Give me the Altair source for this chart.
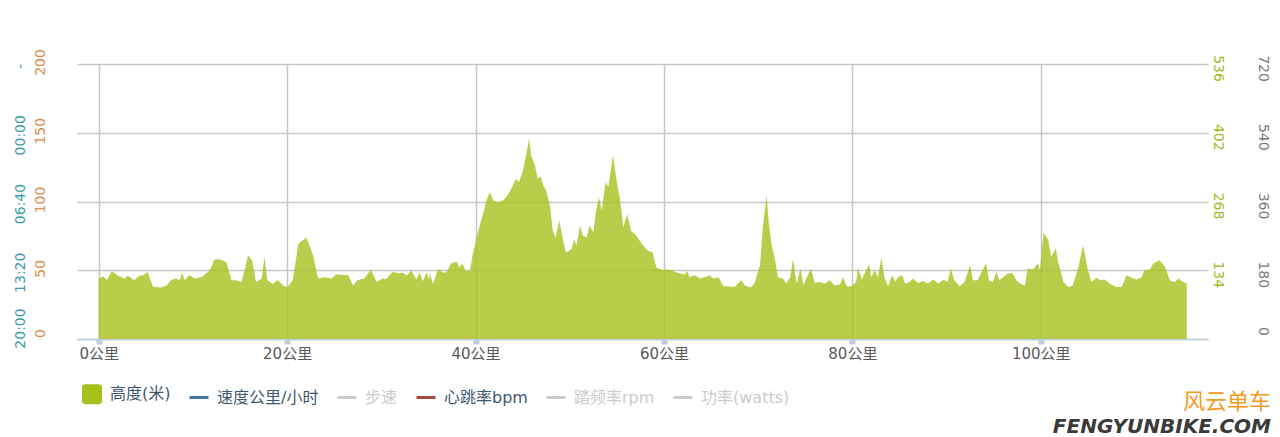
import altair as alt
import pandas as pd

# ---- elevation profile (km, metres) ----
km = [0.0, 0.46, 0.9, 1.4, 2.05, 2.76, 3.1, 3.8, 4.2, 4.7, 5.2, 5.77, 6.65, 7.2, 7.7, 8.25, 8.6, 8.85, 9.1, 9.66,
      10.2, 10.9, 11.4, 11.8, 12.3, 12.85, 13.55, 14.1, 14.6, 15.15, 15.5, 15.85, 16.3, 16.7, 17.3, 17.6, 17.9, 18.5,
      19.0, 19.6, 20.0, 20.6, 21.2, 22.05, 22.75, 23.3, 24.0, 24.7, 25.2, 26.5, 27.0, 27.5, 28.2, 28.9, 29.5,
      30.1, 30.5, 31.2, 31.8, 32.3, 32.7, 33.2, 33.7, 34.1, 34.4, 34.8, 35.05, 35.15, 35.5, 36.0, 36.6, 36.9, 37.4,
      38.0, 38.3, 38.6, 38.96, 39.4, 39.7, 40.1, 40.4, 40.8, 41.1, 41.5, 41.9, 42.4, 42.9, 43.4, 43.8, 44.3, 44.6,
      45.0, 45.4, 45.7, 45.9, 46.3, 46.6, 46.9, 47.2, 47.5, 47.9, 48.2, 48.5, 48.9, 49.3, 49.6, 50.2, 50.5, 50.7,
      51.1, 51.4, 51.8, 52.1, 52.5, 52.8, 53.1, 53.4, 53.8, 54.1, 54.6, 55.0, 55.3, 55.7, 56.1, 56.5, 57.1, 57.3,
      57.8, 58.3, 58.8, 59.2, 59.9,
      60.1, 60.8, 61.5, 62.2, 62.5, 62.7, 63.3, 63.8, 64.3, 64.9, 65.2, 65.8, 66.3, 66.8, 67.5, 68.2, 68.6, 69.2,
      69.6, 70.2, 70.5, 70.9, 71.1, 71.4, 71.8, 72.1, 72.6, 73.0, 73.4, 73.7, 74.1, 74.5, 74.8, 75.1, 75.6, 76.0,
      76.5, 77.1, 77.6, 78.1, 78.7, 79.0, 79.4, 79.9, 80.4, 80.6, 81.0, 81.3, 81.8, 82.0, 82.4, 82.7, 83.1, 83.4,
      83.8, 84.2, 84.6, 84.8, 85.3, 85.6, 86.1, 86.4, 87.0, 87.5, 88.0, 88.6, 89.1, 89.7, 90.1, 90.45, 90.8,
      91.4, 91.9, 92.5, 92.8, 93.3, 93.8, 94.2, 94.5, 94.9, 95.3, 95.6, 96.0, 96.5, 97.0, 97.4, 97.8, 98.3, 98.6,
      99.2, 99.7, 99.9, 100.3, 100.8, 101.1, 101.6, 101.8, 102.4, 102.9, 103.4, 104.0, 104.5, 105.0, 105.4, 105.9,
      106.3, 106.8, 107.3, 108.0, 108.6, 109.1, 109.6, 110.2, 110.7, 111.0, 111.6, 111.9, 112.6, 113.2, 113.7,
      114.2, 114.6, 115.1, 115.5]
elev = [44.0, 45.6, 43.0, 49.5, 46.0, 44.0, 46.0, 42.7, 45.6, 46.4, 48.8, 38.0, 37.4, 39.0, 43.0, 44.0, 42.7, 48.8, 43.0, 46.4,
        44.0, 45.0, 47.6, 50.0, 58.0, 57.8, 56.0, 42.7, 42.7, 41.5, 50.0, 61.0, 57.0, 41.5, 44.0, 59.7, 42.7, 40.0,
        43.0, 39.0, 37.4, 42.7, 69.4, 73.8, 61.0, 44.0, 45.0, 44.0, 47.0, 46.4, 39.0, 43.0, 44.0, 50.5, 41.5,
        44.0, 43.4, 49.0, 47.6, 48.3, 46.0, 50.0, 43.4, 48.3, 42.0, 48.3, 43.4, 47.6, 39.8, 50.7, 48.3, 48.3, 54.9,
        56.3, 52.0, 54.9, 49.5, 49.5, 61.7, 72.7, 81.7, 91.0, 99.5, 106.8, 100.7, 99.5, 100.7, 104.4, 109.3, 116.6, 114.1,
        121.5, 134.9, 145.9, 133.7, 126.3, 116.6, 118.3, 111.7, 108.0, 97.1, 78.8, 73.9, 86.1, 71.5, 62.9, 65.4, 72.7, 67.8,
        82.4, 75.1, 73.9, 82.4, 77.6, 93.4, 103.2, 93.4, 114.1, 110.5, 133.7, 114.1, 103.2, 81.2, 91.0, 78.8, 75.1, 72.7,
        67.8, 64.1, 62.9, 52.0, 50.0,
        50.5, 50.0, 48.0, 47.0, 49.5, 45.0, 46.4, 44.0, 45.0, 46.4, 44.0, 45.0, 38.4, 38.4, 37.9, 42.7, 39.0, 37.4,
        40.3, 53.6, 81.5, 104.5, 86.4, 69.4, 57.3, 45.0, 44.0, 40.3, 45.0, 57.8, 40.3, 51.2, 39.0, 44.0, 51.2, 40.8,
        41.5, 40.3, 42.7, 39.0, 39.8, 45.0, 38.4, 38.4, 41.5, 52.0, 43.2, 47.6, 54.4, 45.0, 50.0, 45.0, 59.2, 45.0,
        38.4, 46.4, 41.5, 45.0, 46.4, 40.3, 41.5, 44.0, 40.8, 42.2, 40.3, 43.2, 40.3, 43.2, 41.5, 51.2, 43.0,
        38.4, 41.5, 53.6, 42.7, 42.7, 50.0, 54.8, 42.7, 41.5, 48.8, 42.7, 45.0, 47.6, 48.0, 42.7, 40.3, 39.0, 51.2,
        50.5, 55.3, 50.0, 77.2, 71.8, 59.7, 65.8, 57.3, 41.5, 37.9, 39.0, 52.4, 68.2, 50.0, 41.5, 44.7,
        42.7, 43.2, 40.3, 37.9, 37.9, 46.4, 44.7, 43.2, 45.0, 50.0, 50.5, 54.8, 57.3, 52.4, 42.7,
        41.5, 44.0, 41.5, 40.3]

# ---- axes / legend text ----
x_ticks = [0, 20, 40, 60, 80, 100]
y_ticks = [0, 50, 100, 150, 200]
alt_labels = ["0", "50", "100", "150", "200"]
time_labels = ["20:00", "13:20", "06:40", "00:00", "-"]
green_labels = ["", "134", "268", "402", "536"]
gray_labels = ["0", "180", "360", "540", "720"]

series = ["高度(米)", "速度公里/小时", "步速", "心跳率bpm", "踏频率rpm", "功率(watts)"]
series_colors = ["#A6C01C", "#4572A7", "#CCCCCC", "#AA4643", "#CCCCCC", "#CCCCCC"]
disabled = ["步速", "踏频率rpm", "功率(watts)"]

FONT = "DejaVu Sans, Noto Sans CJK SC"
GRID = "#C6C6C6"

df = pd.DataFrame({"km": km, "elev": elev})
legend_df = pd.DataFrame({"series": series})


def lookup(labels):
    arr = "[" + ",".join("'" + l + "'" for l in labels) + "]"
    vals = "[" + ",".join(str(v) for v in y_ticks) + "]"
    return f"{arr}[indexof({vals}, datum.value)]"


X = alt.X(
    "km:Q",
    scale=alt.Scale(domain=[-2.3, 117.75], nice=False, zero=False),
    axis=alt.Axis(
        values=x_ticks, labelExpr="datum.value + '公里'", title=None,
        grid=True, gridColor=GRID, gridWidth=1.5,
        domainColor="#C0D0E0", domainWidth=1.5,
        tickColor="#BCCBE2", tickSize=5, tickWidth=6,
        labelFont=FONT, labelFontSize=15, labelColor="#5A5A5A", labelPadding=2,
    ),
)

ysc = alt.Scale(domain=[0, 200], nice=False, zero=True)


def yaxis(labels, orient, color, pad, angle, offset, grid=False):
    return alt.Axis(
        orient=orient, values=y_ticks, labelExpr=lookup(labels), title=None,
        ticks=False, domain=False, grid=grid, gridColor=GRID, gridWidth=1.5,
        labelAngle=angle, labelAlign="center", labelBaseline="middle",
        labelPadding=pad, labelColor=color, labelFont=FONT, labelFontSize=14,
        labelOffset=offset,
    )


area = alt.Chart(df).mark_area(color="#A8C01E", opacity=0.8, interpolate="linear").encode(
    x=X,
    y=alt.Y("elev:Q", scale=ysc,
            axis=yaxis(alt_labels, "left", "#DA8C4E", 37, 270,
                       {"condition": {"test": "datum.value == 0", "value": -6}, "value": -2}, grid=True)),
)
teal = alt.Chart(df).mark_line(opacity=0).encode(
    x=X,
    y=alt.Y("elev:Q", scale=ysc,
            axis=yaxis(time_labels, "left", "#3C9BAC", 57, 270,
                       {"condition": {"test": "datum.value == 0", "value": -11}, "value": 2})),
)
green = alt.Chart(df).mark_line(opacity=0).encode(
    x=X,
    y=alt.Y("elev:Q", scale=ysc,
            axis=yaxis(green_labels, "right", "#9DBB1E", 9, 90, 4)),
)
gray = alt.Chart(df).mark_line(opacity=0).encode(
    x=X,
    y=alt.Y("elev:Q", scale=ysc,
            axis=yaxis(gray_labels, "right", "#7A7A7A", 54, 90,
                       {"condition": {"test": "datum.value == 0", "value": -8}, "value": 4})),
)

disabled_js = "[" + ",".join("'" + s + "'" for s in disabled) + "]"
leg = alt.Legend(
    title=None, orient="none", legendX=4, legendY=319, direction="horizontal", columns=6,
    symbolSize=360, symbolStrokeWidth=3, symbolOpacity=1,
    labelFont=FONT, labelFontSize=16, labelOffset=7, columnPadding=12, padding=0,
    labelColor={"expr": f"indexof({disabled_js}, datum.label) >= 0 ? '#CCCCCC' : '#3E576F'"},
    labelLimit=300,
)
rounded_sq = ("M-0.7,-0.9H0.7A0.2,0.2 0 0 1 0.9,-0.7V0.7A0.2,0.2 0 0 1 0.7,0.9"
              "H-0.7A0.2,0.2 0 0 1 -0.9,0.7V-0.7A0.2,0.2 0 0 1 -0.7,-0.9Z")
color_scale = alt.Scale(domain=series, range=series_colors)
legend_layer = alt.Chart(legend_df).mark_point(opacity=0).encode(
    fill=alt.Fill("series:N", scale=color_scale, legend=leg, sort=series),
    stroke=alt.Stroke("series:N", scale=color_scale, legend=leg, sort=series),
    shape=alt.Shape("series:N", scale=alt.Scale(domain=series, range=[rounded_sq] + ["stroke"] * 5),
                    legend=leg, sort=series),
)

chart = (
    alt.layer(area, teal, green, gray, legend_layer)
    .resolve_scale(y="independent")
    .resolve_axis(y="independent")
    .properties(
        width=1131, height=275,
        autosize=alt.AutoSizeParams(type="none"),
        padding={"left": 69, "top": 56, "right": 64, "bottom": 98},
        title=alt.TitleParams(
            text="风云单车", subtitle="FENGYUNBIKE.COM",
            orient="bottom", anchor="end", frame="bounds",
            font="Noto Sans CJK SC", fontSize=22, fontWeight="normal", color="#F39A1E",
            subtitleFont="DejaVu Sans", subtitleFontSize=20, subtitleFontWeight="bold",
            subtitleFontStyle="italic", subtitleColor="#3A3A3A", subtitlePadding=3,
            offset=0, dy=-17, dx=2,
        ),
    )
    .configure_view(stroke=None)
)

chart.save("out.html", embed_options={"renderer": "svg", "actions": False})
